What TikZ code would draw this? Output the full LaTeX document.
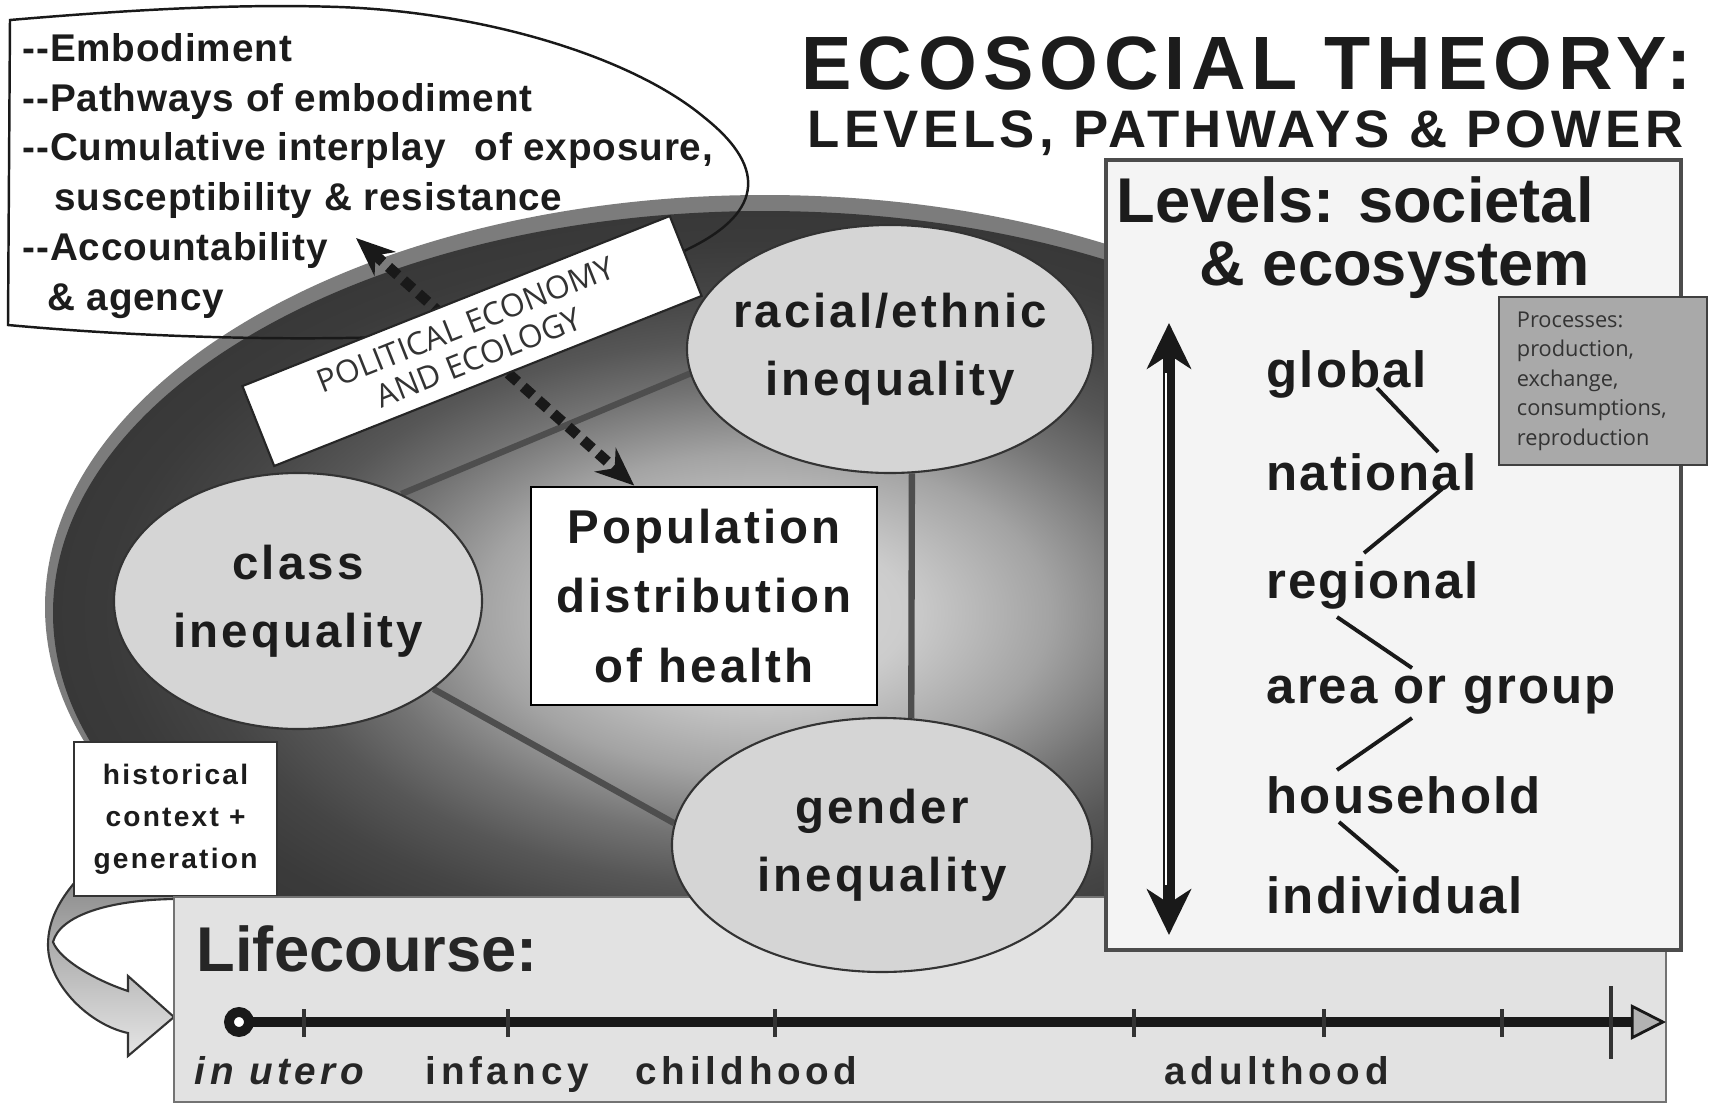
\documentclass[tikz,border=0pt]{standalone}
\usepackage{fontspec}
\setmainfont{Liberation Sans}
\newfontfamily\myriad{Open Sans}
\usetikzlibrary{arrows.meta,shapes.geometric,calc}

\definecolor{ink}{HTML}{1C1C1C}
\definecolor{rim}{HTML}{7C7C7C}
\definecolor{bubblefill}{HTML}{D5D5D5}
\definecolor{panel}{HTML}{F4F4F4}
\definecolor{lifefill}{HTML}{E2E2E2}
\definecolor{procfill}{HTML}{A9A9A9}
\definecolor{rib}{HTML}{4E4E4E}

\pgfdeclareradialshading{ovalglow}{\pgfpoint{0bp}{0bp}}{color(0bp)=(black!15); color(5bp)=(black!20); color(10bp)=(black!36); color(14bp)=(black!55); color(17bp)=(black!66); color(20bp)=(black!73); color(23bp)=(black!77); color(25bp)=(black!78); color(50bp)=(black!78)}
\pgfdeclarelayer{back}
\pgfdeclarelayer{mid}
\pgfsetlayers{back,mid,main}

\newcommand{\trk}[1]{\addfontfeatures{LetterSpace=#1}}
\newcommand{\cloudoutline}{(8,325) -- (10,20) .. controls (150,8) and (250,4) .. (339,7) .. controls (480,12) and (630,55) .. (705,118) .. controls (770,170) and (760,215) .. (686,250) .. controls (600,295) and (500,332) .. (415,336) .. controls (300,341) and (150,338) .. (8,325) -- cycle}

\begin{document}
\begin{tikzpicture}[x=0.1mm,y=-0.1mm,
  bubble/.style={ellipse,draw=black!80,line width=0.6pt,fill=bubblefill,inner sep=-20pt,align=center,text=ink,font=\fontsize{13.5}{19.5}\selectfont\bfseries\trk{6.5}},
  popbox/.style={draw=black,line width=0.8pt,fill=white,align=center,text=ink,minimum width=34.6mm,minimum height=21.8mm,inner sep=0pt,font=\fontsize{13.5}{19.8}\selectfont\bfseries\trk{6.5}},
  pebox/.style={draw=black!85,line width=0.6pt,fill=white,minimum width=46mm,minimum height=8.6mm,inner sep=0pt,align=center,text=black!80,font=\myriad\fontsize{9}{10}\selectfont},
  histbox/.style={draw=black!80,line width=0.6pt,fill=white,minimum width=20.3mm,minimum height=15.4mm,inner sep=0pt,align=center,text=ink,font=\fontsize{8}{12}\selectfont\bfseries\trk{8}},
  lifebox/.style={draw=black!55,line width=0.6pt,fill=lifefill,minimum width=149.2mm,minimum height=20.5mm,inner sep=0pt},
  panelbox/.style={draw=black!70,line width=0.9pt,fill=panel,minimum width=57.5mm,minimum height=79mm,inner sep=0pt},
  procbox/.style={draw=black!75,line width=0.6pt,fill=procfill,minimum width=20.8mm,minimum height=16.8mm,text width=49pt,inner xsep=5pt,align=left,text=black!80,font=\myriad\fontsize{6.2}{8.4}\selectfont},
  heading/.style={anchor=base west,inner sep=0pt,text=ink},
  level/.style={anchor=base west,inner sep=0pt,text=ink,font=\fontsize{14.5}{17}\selectfont\bfseries\trk{4}},
  stage/.style={anchor=base west,inner sep=0pt,text=black!85,font=\fontsize{11}{13}\selectfont\bfseries\trk{12}},
  zig/.style={line width=1.1pt,black!90},
  ribline/.style={line width=1.8pt,rib},
  pearrow/.style={{Stealth[length=11pt,width=9pt]}-{Stealth[length=11pt,width=9pt]},line width=3pt,dash pattern=on 3.5pt off 2.2pt,black!90},
  lvarrow/.style={{Stealth[length=13pt,width=12.5pt,inset=4pt]}-{Stealth[length=13pt,width=12.5pt,inset=4pt]},line width=3.2pt,black!90},
  timeline/.style={-{Triangle[length=10pt,width=10pt,fill=black!30,line width=0.8pt]},line width=2.8pt,black!90},
  tick/.style={line width=1pt,black!80},
  looparrow/.style={draw=black!80,line width=0.6pt,top color=black!45,bottom color=black!10}]

  % ===== canvas + oval =====
  \begin{pgfonlayer}{back}
    \fill[white] (0,0) rectangle (1709,1104);
    \fill[rim] (765,607) ellipse [x radius=72mm, y radius=41.2mm];
    \shade[shading=ovalglow] (765,613) ellipse [x radius=71.2mm, y radius=40.2mm];
  \end{pgfonlayer}
  \path[use as bounding box] (0,0) rectangle (1709,1104);

  % ===== titles =====
  \node[heading,font=\fontsize{21.5}{24}\selectfont\bfseries\trk{7.8}] (title) at (801,89) {ECOSOCIAL THEORY:};
  \node[heading,font=\fontsize{15}{18}\selectfont\bfseries\trk{8.4}] (subtitle) at (807,147) {LEVELS, PATHWAYS \& POWER};

  % ===== callout =====
  \draw[black!90,line width=0.7pt] \cloudoutline;
  \node[anchor=west,align=left,inner sep=0pt,text=ink,font=\fontsize{11}{14.2}\selectfont\bfseries\trk{2.2}] (callout) at (22,176)
    {-{}-Embodiment\\-{}-Pathways of embodiment\\-{}-Cumulative interplay\hspace{0.45em} of exposure,\\\hspace*{9pt}susceptibility \& resistance\\-{}-Accountability\\\hspace*{7pt}\& agency};
  \coordinate (calloutfoot) at (356,238);

  % ===== centre =====
  \node[popbox] (pop) at (704,596) {Population\\distribution\\of health};
  \draw[pearrow] (calloutfoot) -- ($(pop.north west)!0.3!(pop.north east)$);
  \node[pebox,rotate=21.7] (pe) at (472,341) {POLITICAL ECONOMY\\AND ECOLOGY};
  \node[bubble,minimum width=40.6mm,minimum height=24.8mm] (racial) at (890,349) {racial/ethnic\\inequality};
  \node[bubble,minimum width=36.8mm,minimum height=25.6mm] (class) at (298,601) {class\\inequality};

  % ===== lifecourse =====
  \draw[looparrow] (75,882) .. controls (60,900) and (48,920) .. (48,945) .. controls (48,985) and (90,1025) .. (128,1033) -- (128,1056) -- (174,1017) -- (128,976) -- (128,991) .. controls (95,980) and (60,960) .. (53,942) .. controls (60,915) and (110,900) .. (174,899) -- (174,880) -- (75,880) -- cycle;
  \node[histbox] (hist) at (175.5,819) {historical\\context +\\generation};
  \node[lifebox] (life) at (920,999.5) {};
  \node[heading,text=black!85,font=\fontsize{18}{18}\selectfont\bfseries] (lifetitle) at (196,971) {Lifecourse:};
  \coordinate (tlstart) at (239,1022);
  \coordinate (tlend) at (1666,1022);
  \draw[timeline] (tlstart) -- (tlend);
  \foreach \x in {304,508,775,1134,1324,1502}
    \draw[tick] (\x,1009) -- (\x,1037);
  \draw[tick] (1611,986) -- (1611,1059);
  \draw[line width=2.8pt,black!90,fill=white] (tlstart) circle [radius=1mm];
  \node[stage] (utero) at (194,1084) {\itshape in utero};
  \node[stage] (infancy) at (425,1084) {infancy};
  \node[stage] (childhood) at (635,1084) {childhood};
  \node[stage] (adulthood) at (1164,1084) {adulthood};

  \node[bubble,minimum width=42mm,minimum height=25.4mm] (gender) at (882,845) {gender\\inequality};

  % ===== levels =====
  \node[panelbox] (levels) at (1393.5,555) {};
  \node[heading,font=\fontsize{18}{18}\selectfont\bfseries] (lvtitle) at (1116,222) {Levels: societal};
  \node[heading,font=\fontsize{18}{18}\selectfont\bfseries] (lvtitle2) at (1199,285) {\& ecosystem};
  \node[procbox] (proc) at (1603,381) {Processes:\\production,\\exchange,\\consumptions,\\reproduction};
  \coordinate (lvtop) at (1169,323);
  \coordinate (lvbot) at (1169,935);
  \draw[lvarrow] (lvtop) -- (lvbot);
  \draw[white,line width=0.5pt] ($(lvtop)+(-3,50)$) -- ($(lvbot)+(-3,-50)$);
  \node[level] (global) at (1266,387) {global};
  \node[level] (national) at (1266,490) {national};
  \node[level] (regional) at (1266,598) {regional};
  \node[level] (area) at (1266,703) {area or group};
  \node[level] (household) at (1266,813) {household};
  \node[level] (individual) at (1266,913) {individual};
  \draw[zig] ($(global.base west)+(111,1)$) -- ($(national.base west)+(172,-38)$);
  \draw[zig] ($(national.base west)+(176,-1)$) -- ($(regional.base west)+(98,-45)$);
  \draw[zig] ($(regional.base west)+(71,19)$) -- ($(area.base west)+(146,-35)$);
  \draw[zig] ($(area.base west)+(146,15)$) -- ($(household.base west)+(71,-43)$);
  \draw[zig] ($(household.base west)+(73,9)$) -- ($(individual.base west)+(132,-41)$);

  % ===== inequality links =====
  \begin{pgfonlayer}{mid}
    \draw[ribline] (class.46) -- (racial.187);
    \draw[ribline] (class.-33) -- (gender.174);
    \draw[ribline] (racial.-80) -- (gender.77);
  \end{pgfonlayer}
\end{tikzpicture}
\end{document}
